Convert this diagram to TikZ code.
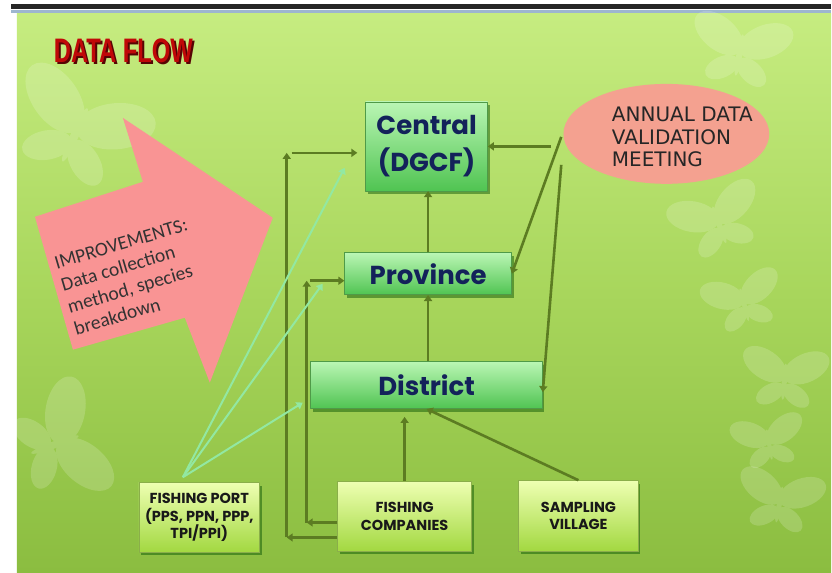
\documentclass[tikz,border=0pt]{standalone}
\usepackage{fontspec}
\usepackage{graphicx}
\usetikzlibrary{arrows.meta,shadows,shapes.geometric}
\setmainfont{Liberation Sans}
\newfontfamily\gothic{Poppins}
\newfontfamily\verd{DejaVu Sans}
\newfontfamily\cali{Carlito}
\definecolor{bgtop}{HTML}{C6EC80}
\definecolor{bgmid}{HTML}{A8D65C}
\definecolor{bgbot}{HTML}{8BBD40}
\definecolor{barblue}{HTML}{9DB6CF}
\definecolor{flowgreen}{HTML}{5C7C22}
\definecolor{portgreen}{HTML}{92E8A2}
\definecolor{navy}{HTML}{13225A}
\definecolor{leveltop}{HTML}{BAF6B4}
\definecolor{levelbot}{HTML}{50C452}
\definecolor{levelrim}{HTML}{4F9A48}
\definecolor{srctop}{HTML}{EEFFB2}
\definecolor{srcbot}{HTML}{A2D840}
\definecolor{srcrim}{HTML}{8AAE4A}
\definecolor{salmon}{HTML}{F4A190}
\definecolor{pinkarrow}{HTML}{F99494}
\definecolor{titlered}{HTML}{C00808}
\begin{document}
\begin{tikzpicture}[x=1pt,y=-1pt,line join=round,
	flowline/.style={draw=flowgreen,line width=2.6pt,-{Triangle[width=8pt,length=6pt]}},
	portline/.style={draw=portgreen,line width=2pt,-{Triangle[width=8pt,length=6pt]}},
	tier/.style={draw=levelrim,line width=0.6pt,top color=leveltop,bottom color=levelbot,
		drop shadow={shadow xshift=2pt,shadow yshift=-3pt,fill=black!70!green,opacity=.45},
		text=navy,font=\gothic\bfseries\fontsize{26}{40}\selectfont,align=center,inner sep=0pt},
	source/.style={draw=srcrim,line width=0.6pt,top color=srctop,bottom color=srcbot,
		drop shadow={shadow xshift=2pt,shadow yshift=-3pt,fill=black!70!green,opacity=.45},
		text=black!90,font=\gothic\bfseries\fontsize{14.5}{17.5}\selectfont,align=center,inner sep=0pt},
	meetbox/.style={ellipse,fill=salmon,minimum width=206,minimum height=100,inner sep=0pt},
	bfly/.pic={
		\begin{scope}[transparency group,opacity=.17]
		\fill[white,rotate around={-30:(-16,-12)}] (-16,-12) ellipse (19 and 11);
		\fill[white,rotate around={30:(16,-12)}] (16,-12) ellipse (19 and 11);
		\fill[white,rotate around={35:(-10,10)}] (-10,10) ellipse (12 and 7);
		\fill[white,rotate around={-35:(10,10)}] (10,10) ellipse (12 and 7);
		\fill[white] (0,0) ellipse (2 and 14);
		\end{scope}}]
	% page, title bar and background
	\fill[white] (0,0) rectangle (832,573);
	\fill[black!85] (11,4) rectangle (832,9.5);
	\fill[barblue] (11,10) rectangle (832,13.5);
	\fill[top color=bgtop,bottom color=bgbot,middle color=bgmid] (17,14) rectangle (832,573);
	\foreach \px/\py/\s/\r in {75/135/2.1/-25,55/445/1.8/-70,745/305/1.2/15,785/382/1.3/-5,
		770/445/1.1/10,780/505/1.3/-10,740/55/1.5/-10,720/225/1.4/20}
		\pic[scale=\s,rotate=\r] at (\px,\py) {bfly};
	% title
	\node[text=black!55!titlered,font=\bfseries\fontsize{34}{34}\selectfont] (titleshade) at (125.5,52.5) {\scalebox{0.7}[1]{DATA FLOW}};
	\node[text=titlered,font=\bfseries\fontsize{34}{34}\selectfont] (title) at (123.5,50.5) {\scalebox{0.7}[1]{DATA FLOW}};
	% improvements arrow
	\fill[pinkarrow] (35,217)--(143,182)--(123,118)--(273,218)--(210,383)--(185,318)--(73,350)--cycle;
	\node[rotate=16.5,align=left,text=black!80,font=\cali\fontsize{19.5}{23}\selectfont] (improve) at (131,277)
		{IMPROVEMENTS:\\Data collection\\method, species\\breakdown};
	% annual meeting
	\node[meetbox] (meet) at (667,134) {};
	\node[align=left,text=black!85,font=\verd\fontsize{20}{23}\selectfont] (meettext) at (683,137)
		{ANNUAL DATA\\VALIDATION\\MEETING};
	% levels
	\node[tier,minimum width=122,minimum height=89] (central) at (427,146.5) {\raisebox{-3pt}{Central}\\(DGCF)};
	\node[tier,minimum width=167,minimum height=42] (province) at (428.5,274) {Province};
	\node[tier,minimum width=232,minimum height=47] (district) at (427,385.5) {District};
	% data sources
	\node[source,minimum width=121,minimum height=70] (fport) at (199.5,518) {FISHING PORT\\(PPS, PPN, PPP,\\TPI/PPI)};
	\node[source,minimum width=134,minimum height=70] (fcomp) at (405,517) {FISHING\\COMPANIES};
	\node[source,minimum width=120,minimum height=71] (svill) at (579,516.5) {SAMPLING\\VILLAGE};
	% flows upward
	\draw[flowline] (province.north) -- (province.north |- central.south);
	\draw[flowline] (district.north -| province.north) -- (province.south);
	\draw[flowline,shorten >=8pt] (fcomp.north) -- (fcomp.north |- district.south);
	\draw[flowline] (svill.north) -- (district.south);
	% companies report straight up
	\coordinate (lo) at (287,538); \coordinate (lotop) at (287,153);
	\coordinate (li) at (307,523); \coordinate (litop) at (307,281);
	\draw[flowline] (fcomp.west |- lo) -- (lo);
	\draw[flowline] (lo) -- (lotop);
	\draw[flowline,shorten >=8pt] ([xshift=5pt]lotop) -- (central.west |- lotop);
	\draw[flowline] (fcomp.west |- li) -- (li);
	\draw[flowline] (li) -- (litop);
	\draw[flowline] ([xshift=3pt]litop) -- (province.west |- litop);
	% feedback from the meeting
	\draw[flowline] ([xshift=-12pt]meet.west |- central.east) -- (central.east);
	\draw[flowline] ([shift={(-2,3)}]meet.west) -- (province.east);
	\draw[flowline] ([shift={(-2,31)}]meet.west) -- ([yshift=-7pt]district.east);
	% fishing port
	\coordinate (fan) at ([xshift=-16.5pt,yshift=5pt]fport.north);
	\coordinate (pc) at (345,168); \coordinate (pp) at (323,284); \coordinate (pd) at (303,403);
	\draw[portline] (fan) -- (pc);
	\draw[portline] (fan) -- (pp);
	\draw[portline] (fan) -- (pd);
\end{tikzpicture}
\end{document}
